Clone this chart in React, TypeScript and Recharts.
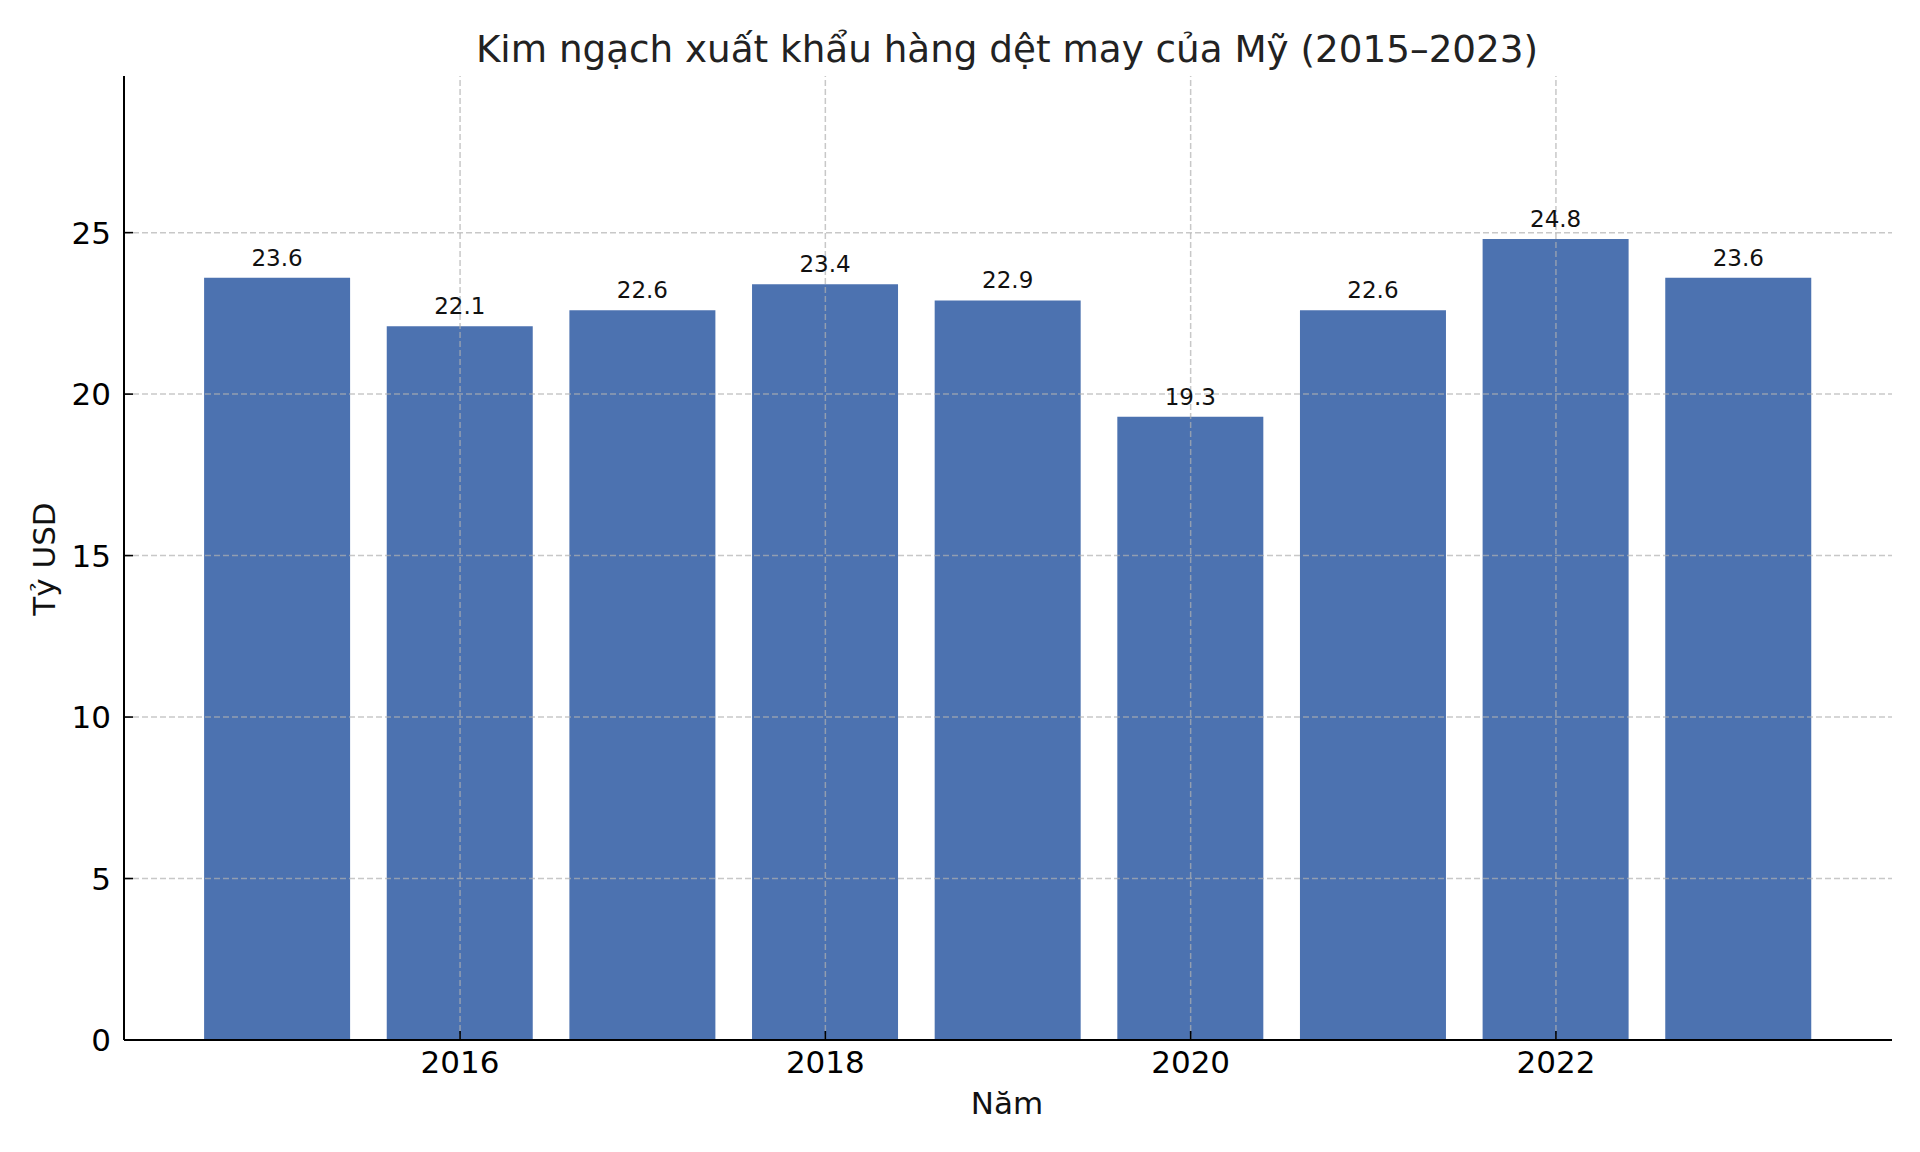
import React from 'react';
import { BarChart, Bar, XAxis, YAxis, ReferenceLine, LabelList } from 'recharts';

const years = [2015, 2016, 2017, 2018, 2019, 2020, 2021, 2022, 2023];
const values = [23.6, 22.1, 22.6, 23.4, 22.9, 19.3, 22.6, 24.8, 23.6];
const xTicks = [2016, 2018, 2020, 2022];
const yTicks = [0, 5, 10, 15, 20, 25];
const xDomain = [2014.16, 2023.84];
const yDomain = [0, 29.85];
const title = 'Kim ngạch xuất khẩu hàng dệt may của Mỹ (2015–2023)';
const xLabel = 'Năm';
const yLabel = 'Tỷ USD';

const data = years.map((y, i) => ({ year: y, value: values[i] }));

const FONT = '"DejaVu Sans", sans-serif';
const W = 1920;
const H = 1152;
const M = { top: 76, right: 28, bottom: 111, left: 123 };
const GRID = { stroke: '#b0b0b0', strokeOpacity: 0.7, strokeWidth: 1.5, strokeDasharray: '6 3' };

const XTick = (props: any) => {
  const { x, y, payload } = props;
  return (
    <g>
      <line x1={x} x2={x} y1={y} y2={y - 9} stroke="#000" strokeWidth={1.6} />
      <text x={x} y={y + 33} textAnchor="middle" fontSize={31} fill="#000" fontFamily={FONT}>
        {payload.value}
      </text>
    </g>
  );
};

const YTick = (props: any) => {
  const { x, y, payload } = props;
  return (
    <g>
      <line x1={x} x2={x + 9} y1={y} y2={y} stroke="#000" strokeWidth={1.6} />
      <text x={x - 13} y={y} dy="0.36em" textAnchor="end" fontSize={31} fill="#000" fontFamily={FONT}>
        {payload.value}
      </text>
    </g>
  );
};

export default function App() {
  return (
    <div style={{ position: 'absolute', left: 0, top: 0, width: W, height: H, background: '#fff' }}>
      <BarChart width={W} height={H} data={data} margin={M}>
        <XAxis
          dataKey="year"
          type="number"
          domain={xDomain}
          ticks={xTicks}
          allowDataOverflow
          height={1}
          tickSize={0}
          tickMargin={0}
          tick={<XTick />}
          axisLine={{ stroke: '#000', strokeWidth: 2 }}
          tickLine={false}
          interval={0}
        />
        <YAxis
          type="number"
          domain={yDomain}
          ticks={yTicks}
          allowDataOverflow
          width={1}
          tickSize={0}
          tickMargin={0}
          tick={<YTick />}
          axisLine={{ stroke: '#000', strokeWidth: 2 }}
          tickLine={false}
          interval={0}
        />
        <Bar dataKey="value" fill="#4C72B0" barSize={146} isAnimationActive={false}>
          <LabelList
            dataKey="value"
            position="top"
            offset={12}
            fontSize={23}
            fill="#111"
            fontFamily={FONT}
            formatter={(v: any) => Number(v).toFixed(1)}
          />
        </Bar>
        {yTicks.filter((t) => t > 0).map((t) => (
          <ReferenceLine key={'y' + t} y={t} {...GRID} />
        ))}
        {xTicks.map((t) => (
          <ReferenceLine key={'x' + t} x={t} {...GRID} />
        ))}
      </BarChart>
      <svg
        width={W}
        height={H}
        style={{ position: 'absolute', left: 0, top: 0, pointerEvents: 'none' }}
      >
        <text x={1007} y={62} textAnchor="middle" fontSize={37.3} fill="#222" fontFamily={FONT}>
          {title}
        </text>
        <text x={1007} y={1114} textAnchor="middle" fontSize={31} fill="#111" fontFamily={FONT}>
          {xLabel}
        </text>
        <text
          x={0}
          y={0}
          transform="translate(55,559) rotate(-90)"
          textAnchor="middle"
          fontSize={31}
          fill="#111"
          fontFamily={FONT}
        >
          {yLabel}
        </text>
      </svg>
    </div>
  );
}
